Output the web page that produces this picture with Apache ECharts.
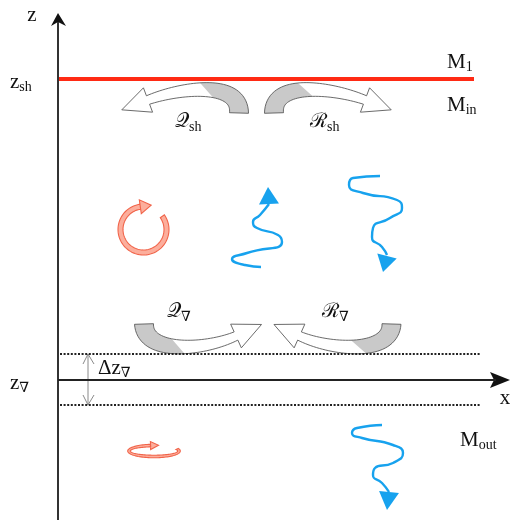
<!DOCTYPE html>
<html><head><meta charset="utf-8">
<script src="https://cdn.jsdelivr.net/npm/echarts@6/dist/echarts.min.js"></script>
<style>html,body{margin:0;padding:0;background:#fff}#c{width:513px;height:520px}</style>
</head><body><div id="c"></div>
<script>
// Schematic coordinates: x measured from the z axis, z measured from the x axis (z_nabla level)
const zAxisLine = [[0, -140], [0, 358]];
const xAxisLine = [[0, 0], [438, 0]];
const zAxisHead = [[0, 367], [-7, 354], [0, 358], [8, 354]];
const xAxisHead = [[452, 0], [432, 8], [436, 0], [432, -8]];
const zSh = 301;
const shLine = [[0, zSh], [416, zSh]];
const layerTop = 26, layerBottom = -25;
const dotTop = [[2, layerTop], [422, layerTop]];
const dotBottom = [[2, layerBottom], [422, layerBottom]];
const deltaX = 30;

// blue wavy transport arrows (line) + arrowhead [baseX, baseZ, tipX, tipZ]
const waveUp = [[203,113],[187,115],[174,121],[189,127],[224,138],[220,145],[199,152],[195,158],[202,165],[211,176]];
const waveDown1 = [[322,204],[295,202],[291,195],[305,187],[339,180],[344,172],[332,162],[315,152],[314,143],[324,133],[329,125]];
const waveDown2 = [[324,-45],[299,-48],[294,-53],[304,-58],[335,-65],[345,-73],[335,-83],[317,-88],[315,-95],[324,-103],[331,-112]];
const waveHeads = [[211,176,210,193],[329,124,325,108],[331,-112,329,-130]];

// curved exchange arrows: cubic Bezier control points
const arrowQsh = [[181,267],[182,300],[122,292],[90,280]];
const arrowRsh = [[216,267],[215,300],[275,292],[307,280]];
const arrowQnab = [[86,56],[87,25],[147,30],[178,44]];
const arrowRnab = [[333.5,56],[332.5,25],[272.5,30],[241.5,44]];
const curvedArrows = [arrowQsh, arrowRsh, arrowQnab, arrowRnab];

// eddies: [cx, cz, rx, rz, startAngle, endAngle]
const eddies = [[85.5,150.5,23,23,35,-262],[96,-71,25,5.5,22,-262]];

// labels: [x, z, text, kind]
const labels = [
  [-26, 365, '{m|z}', 'c'],
  [447, -18, '{m|x}', 'c'],
  [-48, 298, '{m|z}{s|sh}', 'l'],
  [-48, -3, '{m|z}{s|∇}', 'l'],
  [40, 12, '{m|Δz}{s|∇}', 'l'],
  [389, 318, '{m|M}{s|1}', 'l'],
  [389, 275, '{m|M}{s|in}', 'l'],
  [402, -60, '{m|M}{s|out}', 'l'],
  [117, 258, '{q|𝒬}{s|sh}', 'l'],
  [252, 258, '{q|ℛ}{s|sh}', 'l'],
  [109, 68, '{q|𝒬}{s|∇}', 'l'],
  [264, 68, '{q|ℛ}{s|∇}', 'l']
];

const serif = "'Liberation Serif','DejaVu Serif',serif";
const blue = '#17a2ee';

function bandArrow(api, ctrl, w0, w1, hw, hl) {
  const P = ctrl.map(p => api.coord(p));
  const N = 40, L = [], R = [];
  for (let i = 0; i <= N; i++) {
    const t = i / N, u = 1 - t;
    const f = k => u*u*u*P[0][k] + 3*u*u*t*P[1][k] + 3*u*t*t*P[2][k] + t*t*t*P[3][k];
    const d = k => 3*u*u*(P[1][k]-P[0][k]) + 6*u*t*(P[2][k]-P[1][k]) + 3*t*t*(P[3][k]-P[2][k]);
    const x = f(0), y = f(1), dx = d(0), dy = d(1);
    const len = Math.hypot(dx, dy) || 1;
    const nx = -dy / len, ny = dx / len;
    const w = (w0 + (w1 - w0) * t) / 2;
    L.push([x + nx * w, y + ny * w]);
    R.push([x - nx * w, y - ny * w]);
  }
  const dx = P[3][0] - P[2][0], dy = P[3][1] - P[2][1];
  const len = Math.hypot(dx, dy);
  const ux = dx / len, uy = dy / len, nx = -uy, ny = ux;
  const e = P[3];
  const cL = [e[0] + nx * hw, e[1] + ny * hw];
  const cR = [e[0] - nx * hw, e[1] - ny * hw];
  const tip = [e[0] + ux * hl, e[1] + uy * hl];
  const outline = L.concat([cL, tip, cR]).concat(R.slice().reverse());
  const kL = Math.round(N * 0.55), kR = Math.round(N * 0.42);
  const gray = L.slice(0, kL + 1).concat(R.slice(0, kR + 1).reverse());
  return {
    type: 'group', children: [
      { type: 'polygon', shape: { points: outline }, style: { fill: '#fff', stroke: null } },
      { type: 'polygon', shape: { points: gray }, style: { fill: '#c9c9c9', stroke: null } },
      { type: 'polygon', shape: { points: outline }, style: { fill: null, stroke: '#5a5a5a', lineWidth: 0.9 } }
    ]
  };
}

function ringArrow(api, r, w, hw, hl) {
  const c = api.coord([r[0], r[1]]);
  const s = api.size([r[2], r[3]]);
  const a0 = r[4] * Math.PI / 180, a1 = r[5] * Math.PI / 180;
  const N = 80, O = [], I = [];
  for (let i = 0; i <= N; i++) {
    const a = a0 + (a1 - a0) * i / N;
    O.push([c[0] + (s[0] + w/2) * Math.cos(a), c[1] - (s[1] + w/2) * Math.sin(a)]);
    I.push([c[0] + (s[0] - w/2) * Math.cos(a), c[1] - Math.max(s[1] - w/2, 0.5) * Math.sin(a)]);
  }
  const b = [c[0] + s[0] * Math.cos(a1), c[1] - s[1] * Math.sin(a1)];
  let dx = s[0] * Math.sin(a1), dy = s[1] * Math.cos(a1);
  const len = Math.hypot(dx, dy); dx /= len; dy /= len;
  const nx = -dy, ny = dx;
  const cA = [b[0] + nx * hw, b[1] + ny * hw], cB = [b[0] - nx * hw, b[1] - ny * hw];
  const tip = [b[0] + dx * hl, b[1] + dy * hl];
  const pts = O.concat([cA, tip, cB]).concat(I.slice().reverse());
  return { type: 'polygon', shape: { points: pts }, style: { fill: '#fcae9c', stroke: '#f1644a', lineWidth: 1.1 } };
}

const chart = echarts.init(document.getElementById('c'), null, { renderer: 'canvas' });
const lineS = (data, color, width, type, smooth) => ({
  type: 'line', data, symbol: 'none', silent: true, animation: false, smooth: smooth || false,
  lineStyle: { color, width, type: type || 'solid' }
});

chart.setOption({
  animation: false,
  backgroundColor: '#fff',
  grid: { left: 0, right: 0, top: 0, bottom: 0 },
  xAxis: { type: 'value', min: -58, max: 455, show: false },
  yAxis: { type: 'value', min: -140, max: 380, show: false },
  series: [
    lineS(shLine, '#ff2a14', 4),
    lineS(dotTop, '#222', 2, [2, 1.6]),
    lineS(dotBottom, '#222', 2, [2, 1.6]),
    lineS(zAxisLine, '#333', 2),
    lineS(xAxisLine, '#222', 2.2),
    {
      type: 'custom', data: [[0]], silent: true, animation: false,
      renderItem: (p, api) => ({
        type: 'group', children: [
          { type: 'polygon', shape: { points: zAxisHead.map(q => api.coord(q)) }, style: { fill: '#111' } },
          { type: 'polygon', shape: { points: xAxisHead.map(q => api.coord(q)) }, style: { fill: '#111' } },
          { type: 'polyline', shape: { points: [api.coord([deltaX, layerTop]), api.coord([deltaX, layerBottom])] }, style: { stroke: '#8a8a8a', lineWidth: 1, fill: null } },
          { type: 'polyline', shape: { points: [api.coord([deltaX - 5, layerTop - 10]), api.coord([deltaX, layerTop]), api.coord([deltaX + 6, layerTop - 10])] }, style: { stroke: '#8a8a8a', lineWidth: 1, fill: null } },
          { type: 'polyline', shape: { points: [api.coord([deltaX - 5, layerBottom + 10]), api.coord([deltaX, layerBottom]), api.coord([deltaX + 6, layerBottom + 10])] }, style: { stroke: '#8a8a8a', lineWidth: 1, fill: null } }
        ]
      })
    },
    {
      type: 'custom', data: curvedArrows.map((a, i) => [i]), silent: true, animation: false,
      renderItem: (p, api) => bandArrow(api, curvedArrows[p.dataIndex], 19, 9, 13, 28)
    },
    {
      type: 'custom', data: eddies.map((a, i) => [i]), silent: true, animation: false,
      renderItem: (p, api) => p.dataIndex === 0
        ? ringArrow(api, eddies[0], 5, 7, 11)
        : ringArrow(api, eddies[1], 2.6, 4, 8)
    },
    lineS(waveUp, blue, 2.4, null, 0.6), lineS(waveDown1, blue, 2.4, null, 0.6), lineS(waveDown2, blue, 2.4, null, 0.6),
    {
      type: 'custom', data: waveHeads.map((a, i) => [i]), silent: true, animation: false,
      renderItem: (p, api) => {
        const h = waveHeads[p.dataIndex];
        const b = api.coord([h[0], h[1]]), t = api.coord([h[2], h[3]]);
        let dx = t[0] - b[0], dy = t[1] - b[1];
        const len = Math.hypot(dx, dy); dx /= len; dy /= len;
        const hw = 10;
        return { type: 'polygon', shape: { points: [[b[0] - dy * hw, b[1] + dx * hw], t, [b[0] + dy * hw, b[1] - dx * hw]] }, style: { fill: blue } };
      }
    },
    {
      type: 'custom', data: labels.map((a, i) => [i]), silent: true, animation: false,
      renderItem: (p, api) => {
        const l = labels[p.dataIndex];
        const c = api.coord([l[0], l[1]]);
        return {
          type: 'text', x: c[0], y: c[1],
          style: {
            text: l[2], align: l[3] === 'c' ? 'center' : 'left', verticalAlign: 'middle',
            fill: '#111',
            rich: {
              m: { fontSize: 21, fontFamily: serif, fill: '#111' },
              q: { fontSize: 20, fontFamily: serif, fill: '#111' },
              s: { fontSize: 14, fontFamily: serif, fill: '#111', padding: [11, 0, 0, 0] }
            }
          }
        };
      }
    }
  ]
});
</script></body></html>
